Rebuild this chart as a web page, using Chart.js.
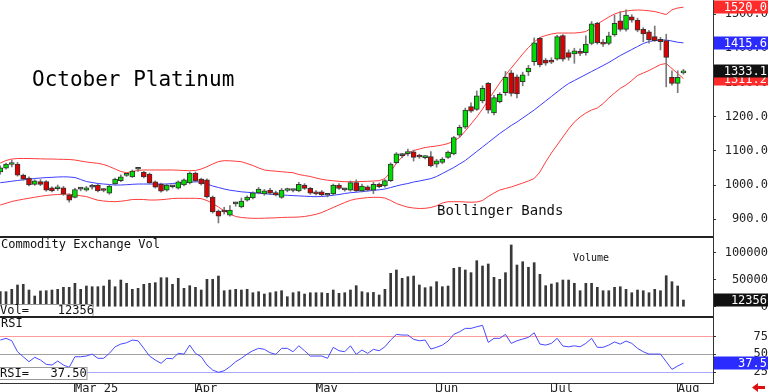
<!DOCTYPE html>
<html>
<head>
<meta charset="utf-8">
<title>October Platinum</title>
<script src="https://cdn.jsdelivr.net/npm/chart.js@4.4.1/dist/chart.umd.min.js"></script>
<style>
  html, body { margin: 0; padding: 0; background: #fff; }
  #wrap { position: relative; width: 768px; height: 392px; overflow: hidden; }
  canvas { position: absolute; left: 0; }
</style>
</head>
<body>
<div id="wrap">
  <canvas id="priceChart" width="768" height="236" style="top:0"></canvas>
  <canvas id="volChart" width="768" height="80" style="top:236px"></canvas>
  <canvas id="rsiChart" width="768" height="76" style="top:316px"></canvas>
</div>
<script>
// ===== DATA (one entry per trading day, Feb 11 - Aug 4) =====
const monthLabels = ['Mar 25', 'Apr', 'May', 'Jun', 'Jul', 'Aug'];
const monthStart = [13, 34, 55, 76, 96, 118];   // bar index of first day of month

const priceTicks = [900, 1000, 1100, 1200, 1300, 1400, 1500];
const volTicks = [0, 50000, 100000];
const rsiTicks = [25, 50, 75];

const openP = [1038,1049,1060,1061,1029,1020,1002,1010,1010,992,
  989,992,971,964,988,985,994,1000,986,976,
  1003,1013,1028,1024,1046,1037,1032,1009,1003,985,
  995,991,1000,1006,1035,1017,1015,965,924,927,
  912,945,936,956,962,977,974,985,978,964,
  984,984,983,1000,990,980,980,970,974,1000,
  986,985,1007,983,995,985,1003,997,1013,1065,
  1086,1092,1097,1084,1080,1083,1061,1066,1081,1091,
  1146,1169,1229,1221,1246,1297,1211,1244,1270,1328,
  1316,1302,1331,1361,1429,1365,1365,1368,1437,1387,
  1383,1390,1387,1414,1473,1416,1414,1439,1480,1455,
  1492,1482,1455,1448,1434,1426,1422,1315,1297,1328];

const highP = [1056,1064,1073,1066,1032,1024,1015,1016,1013,995,
  1000,996,974,990,993,996,1002,1003,990,1000,
  1020,1030,1033,1044,1052,1040,1035,1012,1006,1003,
  998,1012,1018,1038,1038,1020,1018,968,927,935,
  940,950,962,968,980,993,987,990,982,990,
  991,987,1008,1004,993,984,984,974,1003,1004,
  990,1012,1015,1003,998,1008,1006,1016,1065,1095,
  1092,1105,1102,1090,1085,1098,1075,1080,1099,1142,
  1175,1225,1240,1275,1290,1300,1262,1270,1332,1335,
  1322,1330,1350,1430,1432,1370,1372,1438,1440,1395,
  1400,1398,1436,1478,1476,1425,1447,1497,1507,1512,
  1498,1488,1460,1452,1465,1432,1441,1334,1334,1338];

const lowP = [1032,1046,1053,1026,1014,997,999,998,982,980,
  984,970,950,962,983,982,988,980,980,973,
  1000,1010,1025,1022,1040,1021,1003,991,979,982,
  991,988,997,1003,1009,1000,962,918,889,915,
  909,938,933,953,959,974,970,972,968,961,
  980,980,980,987,973,971,968,965,971,987,
  982,982,980,980,982,975,992,994,1010,1062,
  1080,1085,1070,1078,1076,1053,1052,1062,1078,1088,
  1140,1165,1212,1218,1240,1210,1205,1240,1262,1260,
  1255,1290,1320,1350,1345,1350,1355,1365,1362,1365,
  1356,1378,1380,1410,1412,1405,1410,1435,1450,1450,
  1476,1448,1419,1415,1420,1395,1287,1292,1270,1324];

const closeP = [1050,1061,1062,1029,1017,1000,1012,1002,985,983,
  991,973,956,987,988,992,994,983,984,997,
  1017,1024,1030,1041,1046,1024,1006,994,982,1000,
  995,1009,1015,1035,1012,1003,965,921,909,921,
  927,945,953,965,977,988,983,976,971,985,
  986,984,1002,990,976,974,971,970,1000,990,
  986,1007,983,997,985,1002,995,1013,1061,1091,
  1086,1093,1081,1082,1081,1056,1071,1076,1096,1139,
  1169,1219,1216,1261,1283,1219,1256,1265,1315,1268,
  1266,1322,1342,1416,1351,1356,1359,1434,1368,1373,
  1392,1385,1412,1471,1416,1412,1436,1473,1455,1497,
  1482,1453,1442,1424,1422,1419,1373,1297,1315,1333.1];

const bbUpper = [1064.3,1071.6,1076,1077.5,1077.5,1077.5,1076.9,1076.6,1076,1076,
  1075.4,1075.1,1074.6,1073.1,1070.2,1067.3,1065.2,1063.5,1059.9,1054.1,
  1046.8,1039.5,1036,1039.5,1042.4,1043.9,1043.9,1043.9,1043.9,1043.9,
  1043.9,1043.3,1042.4,1041.8,1042.4,1046.8,1053.5,1061.4,1068.7,1071.1,
  1070.8,1069.6,1068.1,1062.9,1057,1049.7,1043.9,1041.8,1040.4,1038.9,
  1037.4,1036,1030.7,1027.8,1024.9,1020.5,1016.7,1014,1012.3,1010.8,
  1009.6,1009.6,1009.6,1010.2,1010.8,1011.7,1012.6,1019,1038,1064.3,
  1081.9,1093.6,1100.9,1105.3,1109.7,1112,1114,1117,1121.3,1128.7,
  1138.9,1157.9,1178.4,1198.8,1222.2,1248.5,1273.4,1298.2,1321.6,1342.1,
  1362.5,1383,1402,1418.1,1431.3,1437.1,1441.5,1444.4,1444.4,1444.4,
  1444.4,1445.9,1448.8,1459.1,1470.8,1481,1491.2,1500,1505.9,1508.8,
  1510.8,1511.7,1511.1,1509.4,1507.3,1502.9,1498.5,1512.3,1517.6,1520];

const bbMid = [1006.7,1008.8,1011.1,1013.2,1015.2,1017,1019,1020.5,1021.6,1022.5,
  1023.4,1024,1023.4,1021.9,1016.1,1010.2,1007.3,1004.4,1002.9,1001.5,
  1000,1000,1000.9,1002,1002.9,1002.9,1002.9,1002.9,1002.9,1002.9,
  1004.4,1005.8,1006.7,1007.9,1009.4,1008.8,1002.9,997.1,992.7,988.3,
  984.8,982.5,980.1,978.7,977.5,976,974.6,973.1,971.9,970.8,
  969.9,969,968.1,967.3,966.4,965.8,966.4,967.8,970.2,972.2,
  975.1,977.5,978.9,980.7,982.5,984.2,986,988.3,992.7,997.1,
  1001.2,1004.4,1008.8,1011.7,1015.2,1018.7,1024.9,1033.6,1042.4,1051.2,
  1061.4,1071.6,1084.8,1098,1111.1,1124.3,1137.4,1150.6,1162.3,1174,
  1184.2,1195.9,1207.6,1219.3,1232.5,1245.6,1258.8,1271.9,1285.1,1296.8,
  1305.6,1314.3,1323.1,1331.9,1340.6,1349.4,1358.2,1368.4,1378.7,1387.4,
  1396.2,1405,1413.7,1419.6,1422.5,1424,1424,1421,1417.5,1415.6];

const bbLower = [941.5,946.5,951.8,955.3,958.5,961.4,964.3,967,969.3,971.1,
  972.2,973.1,973.1,971.3,968.4,966.4,960.5,955.6,953.2,951.8,
  951.2,952.6,954.7,957.6,957.9,957.6,956.1,956.1,957,958.5,
  960.5,961.1,961.1,961.1,961.1,960.2,954.7,945.9,935.7,924.6,
  915.2,907.9,905,903.5,902.6,902.6,902.9,903.5,904.1,905,
  905.6,905.8,906.4,907.9,910.8,914.3,919.6,926.9,934.2,941.5,
  948.8,955.3,959.1,961.4,963.2,964,964,962,954.7,945.9,
  940.1,935.1,932.7,931.3,931.9,934.2,939.2,947.4,951.2,951.2,
  951.2,950.3,949.7,950.3,954.7,966.4,976.6,985.4,989.8,994.2,
  1000,1005.8,1011.7,1019,1038,1067.3,1093.6,1117,1140.4,1163.7,
  1184.2,1198.8,1210.5,1219.3,1225.1,1238.3,1254.4,1269,1282.7,1292.4,
  1305.6,1320.2,1327.5,1334.8,1343.6,1352.3,1355.3,1340.6,1326,1311.2];

const volume = [27800,27800,32200,40200,41400,30900,19800,29100,29600,30900,
  32200,35900,35900,43300,32200,38300,37000,37000,38300,49400,
  37000,49400,43300,32200,34000,41400,43300,44500,53700,53700,
  41400,52500,34000,38900,35900,30900,50700,50700,56800,29600,
  30900,32200,30900,32200,25900,27800,23500,25900,27800,29600,
  18500,25900,27800,23500,25900,25900,25900,24800,30900,24800,
  25900,30900,38900,27800,25900,26500,21700,32200,61800,68000,
  52500,55600,56800,40200,35200,37000,46300,37000,38300,71100,
  73000,68000,63000,85200,75400,79100,54400,50700,63000,114300,
  77200,83300,73000,81500,60000,38900,42000,44500,49400,49400,
  43300,29600,43300,43300,35900,29600,29600,35900,37000,32200,
  25900,30900,29600,25900,32200,29600,57400,46300,38300,12356];

const rsi = [70.2,72.6,69.2,53.7,46.6,39.6,45.8,42,35.9,34.9,
  40.5,34.9,31.6,46.6,46.6,47.6,50.4,44.4,44.4,51.4,
  60.7,64.5,66.4,70.2,69.2,58.5,47.6,42,37.3,44.4,
  43.8,51.4,50.4,63.1,51.4,46.6,34.9,27.8,24.6,26.8,
  32.5,39.6,44.4,50.4,55.1,58.5,57.1,52.3,50,58.5,
  58.5,53.7,62.1,55.1,47.6,47.6,47.6,44.4,59.9,55.1,
  53.7,62.1,50,56.1,51.4,57.1,55.1,60.7,70.2,78.2,
  77.3,77.3,71.2,69.2,70.2,57.5,59.9,63.1,68.8,78.2,
  81.9,86.7,86.7,89,91,66.9,72.6,72.6,78.2,65.5,
  69.2,71.6,74,80.5,64.5,63.1,65.5,72.6,61.7,60.7,
  62.1,60.7,65.5,72.6,59.9,59.9,63.1,67.5,64.5,68.8,
  65.5,58.5,53.7,50.4,50.4,50.4,39.6,28.8,33.5,37.5];

// ===== STYLE =====
const MONO = '"DejaVu Sans Mono", "Liberation Mono", monospace';
const X_MIN = -0.05, X_MAX = 124.15;
const AXIS_W = 55;
const last = a => a[a.length - 1];

Chart.defaults.font.family = MONO;
Chart.defaults.font.size = 12;
Chart.defaults.color = '#222';

function xScale(show) {
  return {
    type: 'linear', min: X_MIN, max: X_MAX, offset: false, display: show,
    grid: { offset: false, drawOnChartArea: false, drawTicks: true, tickLength: 9, color: '#333' },
    border: { display: true, color: '#333' },
    afterBuildTicks: s => { s.ticks = monthStart.map(v => ({ value: v })); },
    afterFit: s => { s.height = show ? 9 : 0; s.paddingLeft = 0; s.paddingRight = 0; },
    ticks: {
      autoSkip: false, maxRotation: 0, minRotation: 0, align: 'start', padding: -10,
      callback: v => monthLabels[monthStart.indexOf(v)]
    }
  };
}

function yScale(min, max, tickList, fmt, pad, gridColor) {
  return {
    position: 'right', min: min, max: max,
    afterBuildTicks: s => { s.ticks = tickList.map(v => ({ value: v })); },
    // fixed axis width, no extra padding for the labels
    afterFit: s => { s.width = AXIS_W; s.paddingTop = 0; s.paddingBottom = 0; },
    border: { display: true, color: '#333' },
    grid: {
      drawOnChartArea: !!gridColor,
      color: gridColor || '#333',
      tickColor: '#333', tickLength: 3
    },
    ticks: { crossAlign: 'far', padding: pad, callback: fmt }
  };
}

// value tags on the right axis
function drawTag(chart, value, bg, text) {
  const ctx = chart.ctx;
  const py = Math.round(chart.scales.y.getPixelForValue(value));
  ctx.save();
  ctx.fillStyle = bg;
  ctx.fillRect(714, py - 6.5, 54, 13);
  ctx.fillStyle = '#fff';
  ctx.font = '12px ' + MONO;
  ctx.textAlign = 'right';
  ctx.textBaseline = 'middle';
  ctx.fillText(text, 767, py + 0.5);
  ctx.restore();
}

function drawText(ctx, text, x, y, size, color) {
  ctx.save();
  ctx.font = size + 'px ' + MONO;
  ctx.fillStyle = color || '#111';
  ctx.textAlign = 'left';
  ctx.textBaseline = 'middle';
  ctx.fillText(text, x, y);
  ctx.restore();
}

function drawInfoBox(ctx, text, y, w) {
  ctx.save();
  ctx.fillStyle = '#fff';
  ctx.fillRect(0, y, w, 12);
  ctx.strokeStyle = '#999';
  ctx.lineWidth = 1;
  ctx.strokeRect(-0.5, y + 0.5, w + 0.5, 12);
  ctx.restore();
  drawText(ctx, text, 0, y + 6.5, 12, '#111');
}

function drawSeparator(ctx) {
  ctx.save();
  ctx.fillStyle = '#222';
  ctx.fillRect(0, 0, 713, 2);
  ctx.restore();
}

const baseOpts = {
  responsive: false,
  animation: false,
  devicePixelRatio: 1,
  layout: { padding: 0, autoPadding: false },
  plugins: { legend: { display: false }, tooltip: { enabled: false } }
};

// ===== PRICE PANEL =====
const candleColor = openP.map((o, i) => closeP[i] > o ? '#00dd00' : (closeP[i] < o ? '#dd0000' : '#555'));
const pts = arr => arr.map((v, i) => ({ x: i, y: v }));

new Chart(document.getElementById('priceChart'), {
  type: 'bar',
  data: {
    datasets: [
      { type: 'line', data: pts(bbUpper), borderColor: '#ff3c3c', borderWidth: 1, pointRadius: 0, order: 3 },
      { type: 'line', data: pts(bbMid), borderColor: '#3c3cff', borderWidth: 1, pointRadius: 0, order: 3 },
      { type: 'line', data: pts(bbLower), borderColor: '#ff3c3c', borderWidth: 1, pointRadius: 0, order: 3 },
      { data: lowP.map((l, i) => ({ x: i, y: [l, highP[i]] })), backgroundColor: '#7a7a7a',
        barThickness: 1, grouped: false, order: 2 },
      { data: openP.map((o, i) => ({ x: i, y: [o, closeP[i]] })), backgroundColor: candleColor,
        borderColor: '#333', borderWidth: 1, borderSkipped: false, barThickness: 5,
        minBarLength: 2, grouped: false, order: 1 }
    ]
  },
  options: Object.assign({}, baseOpts, {
    scales: {
      x: xScale(false),
      y: yScale(850.9, 1541, priceTicks, v => v.toFixed(1), 8)
    }
  }),
  plugins: [{
    id: 'priceDecor',
    afterDraw(chart) {
      const ctx = chart.ctx;
      drawText(ctx, 'October Platinum', 32, 81, 21, '#000');
      drawText(ctx, 'Bollinger Bands', 437, 211, 14, '#111');
      drawTag(chart, last(bbUpper), '#ff2b2b', last(bbUpper).toFixed(1));
      drawTag(chart, last(bbMid), '#2b2bff', last(bbMid).toFixed(1));
      drawTag(chart, last(bbLower), '#ff2b2b', last(bbLower).toFixed(1));
      drawTag(chart, last(closeP), '#111', last(closeP).toFixed(1));
    }
  }]
});

// ===== VOLUME PANEL =====
new Chart(document.getElementById('volChart'), {
  type: 'bar',
  data: {
    datasets: [{ data: pts(volume), backgroundColor: '#383838', barThickness: 2, grouped: false }]
  },
  options: Object.assign({}, baseOpts, {
    scales: {
      x: xScale(false),
      y: yScale(-17200, 130900, volTicks, v => String(v), 8)
    }
  }),
  plugins: [{
    id: 'volDecor',
    afterDraw(chart) {
      const ctx = chart.ctx;
      drawSeparator(ctx);
      drawText(ctx, 'Commodity Exchange Vol', 1, 8.5, 12, '#111');
      drawText(ctx, 'Volume', 573, 22.5, 10, '#111');
      drawInfoBox(ctx, 'Vol=' + String(last(volume)).padStart(9), 68, 93);
      drawTag(chart, last(volume), '#111', String(last(volume)));
    }
  }]
});

// ===== RSI PANEL =====
const rsiGrid = ctx => {
  const v = ctx.tick && ctx.tick.value;
  if (v === 75) return '#ff9a9a';
  if (v === 25) return '#a8a8ff';
  return '#a0a0a0';
};

new Chart(document.getElementById('rsiChart'), {
  type: 'line',
  data: {
    datasets: [{ data: pts(rsi), borderColor: '#4848ff', borderWidth: 1, pointRadius: 0 }]
  },
  options: Object.assign({}, baseOpts, {
    scales: {
      x: xScale(true),
      y: yScale(9.5, 104.2, rsiTicks, v => String(v), 21, rsiGrid)
    }
  }),
  plugins: [{
    id: 'rsiDecor',
    afterDraw(chart) {
      const ctx = chart.ctx;
      drawSeparator(ctx);
      drawText(ctx, 'RSI', 1, 7.5, 12, '#111');
      drawInfoBox(ctx, 'RSI=' + last(rsi).toFixed(2).padStart(8), 51, 87);
      drawTag(chart, last(rsi), '#2b2bff', last(rsi).toFixed(1));
      // small red arrow, bottom right
      ctx.save();
      ctx.fillStyle = '#e01010';
      ctx.beginPath();
      ctx.moveTo(752, 71.5);
      ctx.lineTo(758, 67);
      ctx.lineTo(758, 76);
      ctx.closePath();
      ctx.fill();
      ctx.fillRect(757, 70, 8, 3);
      ctx.restore();
    }
  }]
});
</script>
</body>
</html>
